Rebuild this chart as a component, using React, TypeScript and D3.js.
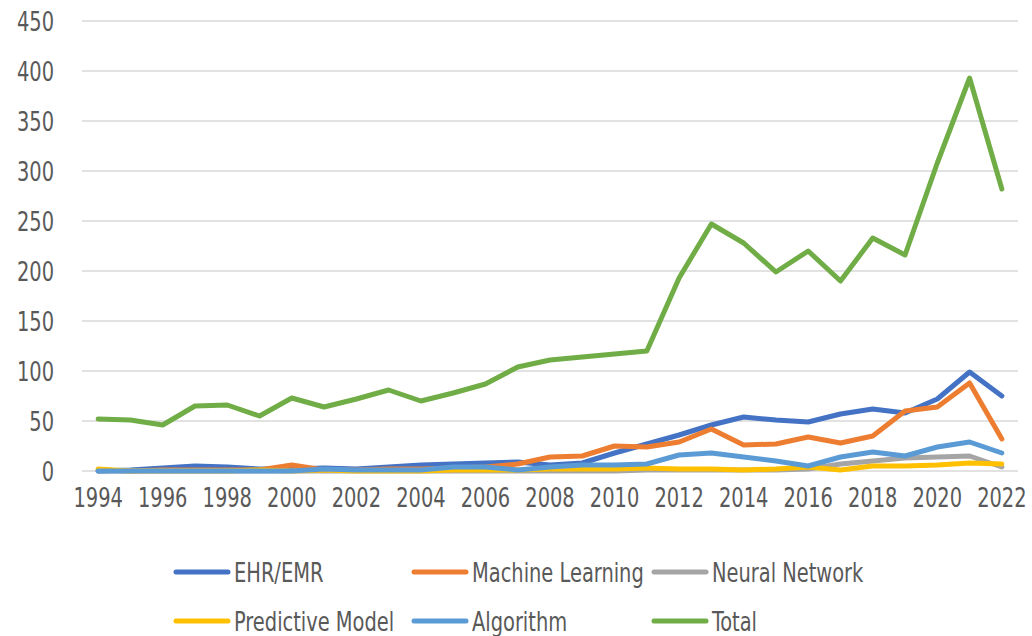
import React from 'react';
import * as d3 from 'd3';

const years = [
  1994, 1995, 1996, 1997, 1998, 1999, 2000, 2001, 2002, 2003, 2004, 2005, 2006, 2007, 2008,
  2009, 2010, 2011, 2012, 2013, 2014, 2015, 2016, 2017, 2018, 2019, 2020, 2021, 2022,
];

const ehrEmr = [0, 1, 3, 5, 4, 2, 2, 3, 2, 4, 6, 7, 8, 9, 6, 8, 18, 27, 36, 46, 54, 51, 49, 57, 62, 58, 72, 99, 75];
const machineLearning = [1, 0, 1, 1, 1, 1, 6, 1, 1, 2, 2, 3, 4, 7, 14, 15, 25, 24, 29, 42, 26, 27, 34, 28, 35, 60, 64, 88, 32];
const neuralNetwork = [0, 0, 0, 0, 0, 0, 0, 0, 0, 0, 0, 0, 0, 0, 0, 0, 0, 1, 1, 1, 1, 1, 2, 7, 10, 13, 14, 15, 4];
const predictiveModel = [2, 0, 0, 0, 0, 1, 0, 1, 0, 0, 0, 1, 1, 1, 2, 2, 2, 3, 2, 2, 1, 2, 4, 1, 5, 5, 6, 8, 7];
const algorithm = [0, 0, 0, 0, 0, 0, 0, 2, 1, 1, 1, 4, 4, 1, 4, 6, 6, 7, 16, 18, 14, 10, 5, 14, 19, 15, 24, 29, 18];
const total = [52, 51, 46, 65, 66, 55, 73, 64, 72, 81, 70, 78, 87, 104, 111, 114, 117, 120, 193, 247, 228, 199, 220, 190, 233, 216, 308, 393, 282];

const yTicks = [0, 50, 100, 150, 200, 250, 300, 350, 400, 450];
const xTickYears = years.filter((y) => y % 2 === 0);

const seriesNames = ['EHR/EMR', 'Machine Learning', 'Neural Network', 'Predictive Model', 'Algorithm', 'Total'];
const seriesValues = [ehrEmr, machineLearning, neuralNetwork, predictiveModel, algorithm, total];
const seriesColors = ['#4472C4', '#ED7D31', '#A5A5A5', '#FFC000', '#5B9BD5', '#70AD47'];

const W = 1032;
const H = 636;
const FONT = "'DejaVu Sans Condensed', 'DejaVu Sans', sans-serif";
const TEXT = '#595959';
const SQUEEZE = 0.8; // narrow the glyphs to look like the condensed original font

// text squeezed horizontally around its anchor point
const Label = ({ x, y, anchor = 'start', children }: { x: number; y: number; anchor?: string; children: React.ReactNode }) => (
  <text
    transform={`translate(${x},${y}) scale(${SQUEEZE},1)`}
    dy="0.36em"
    textAnchor={anchor}
    fontFamily={FONT}
    fontSize={27}
    fill={TEXT}
  >
    {children}
  </text>
);

export default function App() {
  // plot area
  const x = d3.scalePoint<number>().domain(years).range([82, 1018]).padding(0.5);
  const y = d3.scaleLinear().domain([0, 450]).range([471, 21]);

  const line = d3
    .line<number>()
    .x((d, i) => x(years[i]) as number)
    .y((d) => y(d));

  // legend layout: 3 columns, 2 rows
  const legendCols = [176, 414, 654];
  const legendRows = [572, 621];

  return (
    <svg width={W} height={H} style={{ position: 'absolute', left: 0, top: 0, background: '#fff' }}>
      {/* gridlines */}
      {yTicks.map((t) => (
        <line key={t} x1={82} x2={1018} y1={y(t)} y2={y(t)} stroke="#d9d9d9" strokeWidth={1.5} />
      ))}

      {/* y axis labels */}
      {yTicks.map((t) => (
        <Label key={t} x={54} y={y(t)} anchor="end">
          {t}
        </Label>
      ))}

      {/* x axis labels */}
      {xTickYears.map((yr) => (
        <Label key={yr} x={x(yr) as number} y={497} anchor="middle">
          {yr}
        </Label>
      ))}

      {/* series */}
      {seriesValues.map((vals, i) => (
        <path
          key={seriesNames[i]}
          d={line(vals) || ''}
          fill="none"
          stroke={seriesColors[i]}
          strokeWidth={5}
          strokeLinejoin="round"
          strokeLinecap="round"
        />
      ))}

      {/* legend */}
      {seriesNames.map((name, i) => {
        const cx = legendCols[i % 3];
        const cy = legendRows[Math.floor(i / 3)];
        return (
          <g key={name}>
            <line x1={cx} x2={cx + 52} y1={cy} y2={cy} stroke={seriesColors[i]} strokeWidth={5} strokeLinecap="round" />
            <Label x={cx + 58} y={cy}>
              {name}
            </Label>
          </g>
        );
      })}
    </svg>
  );
}
